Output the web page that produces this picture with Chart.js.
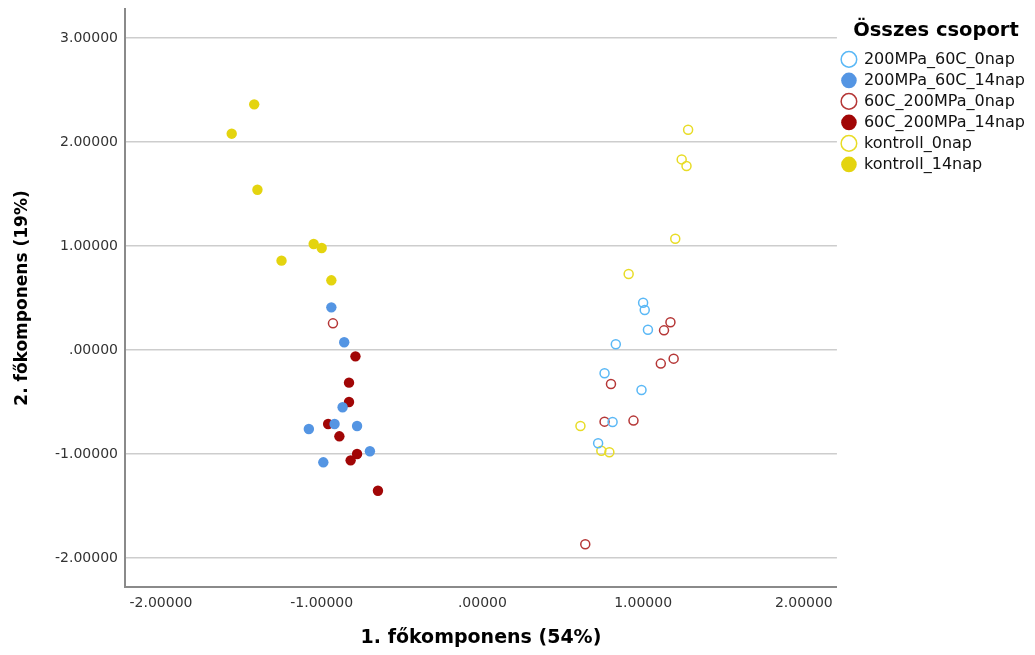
<!DOCTYPE html>
<html>
<head>
<meta charset="utf-8">
<script src="https://cdn.jsdelivr.net/npm/chart.js@4.4.1/dist/chart.umd.min.js"></script>
<style>
  html, body { margin: 0; padding: 0; background: #fff; }
  #wrap { width: 1035px; height: 655px; }
</style>
</head>
<body>
<div id="wrap"><canvas id="pcaChart" width="1035" height="655"></canvas></div>
<script>
// Group names, in legend order
const groupNames = ['200MPa_60C_0nap', '200MPa_60C_14nap', '60C_200MPa_0nap', '60C_200MPa_14nap', 'kontroll_0nap', 'kontroll_14nap'];

// Principal component scores per group (x = PC1, y = PC2)
const hp60day0X = [1.00, 1.01, 1.03, 0.83, 0.76, 0.99, 0.81, 0.72];
const hp60day0Y = [0.455, 0.385, 0.195, 0.055, -0.224, -0.385, -0.692, -0.897];

const hp60day14X = [-0.94, -0.86, -0.87, -0.92, -1.08, -0.78, -0.70, -0.99];
const hp60day14Y = [0.410, 0.074, -0.551, -0.712, -0.760, -0.731, -0.974, -1.080];

const t60hpDay0X = [-0.93, 1.17, 1.13, 1.19, 1.11, 0.80, 0.76, 0.94, 0.64];
const t60hpDay0Y = [0.256, 0.266, 0.189, -0.083, -0.131, -0.327, -0.689, -0.679, -1.868];

const t60hpDay14X = [-0.79, -0.83, -0.83, -0.96, -0.89, -0.78, -0.82, -0.65];
const t60hpDay14Y = [-0.061, -0.314, -0.500, -0.712, -0.830, -1.000, -1.061, -1.353];

const controlDay0X = [1.28, 1.24, 1.27, 1.20, 0.91, 0.61, 0.74, 0.79];
const controlDay0Y = [2.118, 1.833, 1.769, 1.070, 0.731, -0.731, -0.968, -0.984];

const controlDay14X = [-1.56, -1.42, -1.40, -1.25, -1.05, -1.00, -0.94];
const controlDay14Y = [2.080, 2.362, 1.541, 0.859, 1.019, 0.981, 0.670];

// Axis ticks
const xTicks = [-2, -1, 0, 1, 2];
const yTicks = [-2, -1, 0, 1, 2, 3];

function toPoints(xs, ys) {
    return xs.map((x, i) => ({ x: x, y: ys[i] }));
}

function spssFormat(v) {
    return v === 0 ? '.00000' : v.toFixed(5);
}

function openSet(label, points, color) {
    return {
        label: label,
        data: points,
        pointStyle: 'circle',
        pointRadius: 4.5,
        pointHoverRadius: 4.5,
        borderWidth: 1.5,
        borderColor: color,
        backgroundColor: 'rgba(255,255,255,0)'
    };
}

function filledSet(label, points, color) {
    return {
        label: label,
        data: points,
        pointStyle: 'circle',
        pointRadius: 5.2,
        pointHoverRadius: 5.2,
        borderWidth: 0,
        borderColor: color,
        backgroundColor: color
    };
}

const datasets = [
    openSet(groupNames[0], toPoints(hp60day0X, hp60day0Y), '#5ab8f6'),
    filledSet(groupNames[1], toPoints(hp60day14X, hp60day14Y), '#5495e3'),
    openSet(groupNames[2], toPoints(t60hpDay0X, t60hpDay0Y), '#b53636'),
    filledSet(groupNames[3], toPoints(t60hpDay14X, t60hpDay14Y), '#a10606'),
    openSet(groupNames[4], toPoints(controlDay0X, controlDay0Y), '#e8dc26'),
    filledSet(groupNames[5], toPoints(controlDay14X, controlDay14Y), '#e4d40f')
];

const ctx = document.getElementById('pcaChart');
new Chart(ctx, {
    type: 'scatter',
    data: { datasets: datasets },
    options: {
        responsive: false,
        animation: false,
        layout: { padding: { top: 9, left: 0, right: 0, bottom: 0 } },
        plugins: {
            tooltip: { enabled: false },
            legend: {
                position: 'right',
                align: 'start',
                title: {
                    display: true,
                    text: 'Összes csoport',
                    color: '#000',
                    font: { family: 'DejaVu Sans', size: 19.5, weight: 'bold' },
                    padding: { top: 12, bottom: 2 }
                },
                labels: {
                    usePointStyle: true,
                    boxWidth: 14,
                    boxHeight: 11,
                    padding: 5,
                    color: '#111',
                    font: { family: 'DejaVu Sans', size: 16 }
                }
            }
        },
        scales: {
            x: {
                type: 'linear',
                min: -2.224,
                max: 2.206,
                afterBuildTicks: function(scale) {
                    scale.ticks = xTicks.map(v => ({ value: v }));
                },
                afterFit: function(scale) {
                    scale.height = 68;
                },
                grid: { display: false, drawTicks: false },
                border: { display: true, color: '#8a8a8a', width: 2 },
                ticks: {
                    padding: 8,
                    color: '#333',
                    font: { family: 'DejaVu Sans', size: 14 },
                    maxRotation: 0,
                    callback: spssFormat
                },
                title: {
                    display: true,
                    text: '1. főkomponens (54%)',
                    color: '#000',
                    font: { family: 'DejaVu Sans', size: 19, weight: 'bold' },
                    padding: { top: 0, bottom: 6 }
                }
            },
            y: {
                type: 'linear',
                min: -2.279,
                max: 3.279,
                afterBuildTicks: function(scale) {
                    scale.ticks = yTicks.map(v => ({ value: v }));
                },
                afterFit: function(scale) {
                    // fixed axis width; the end ticks sit well inside the plot,
                    // so no extra room is needed above or below
                    scale.width = 125;
                    scale.paddingTop = 0;
                    scale.paddingBottom = 0;
                },
                grid: { display: true, drawTicks: false, color: '#cdcdcd', lineWidth: 1.5 },
                border: { display: true, color: '#8a8a8a', width: 2 },
                ticks: {
                    padding: 7,
                    color: '#333',
                    font: { family: 'DejaVu Sans', size: 14 },
                    callback: spssFormat
                },
                title: {
                    display: true,
                    text: '2. főkomponens (19%)',
                    color: '#000',
                    font: { family: 'DejaVu Sans', size: 17, weight: 'bold' },
                    padding: { top: 12, bottom: 0 }
                }
            }
        }
    }
});
</script>
</body>
</html>
